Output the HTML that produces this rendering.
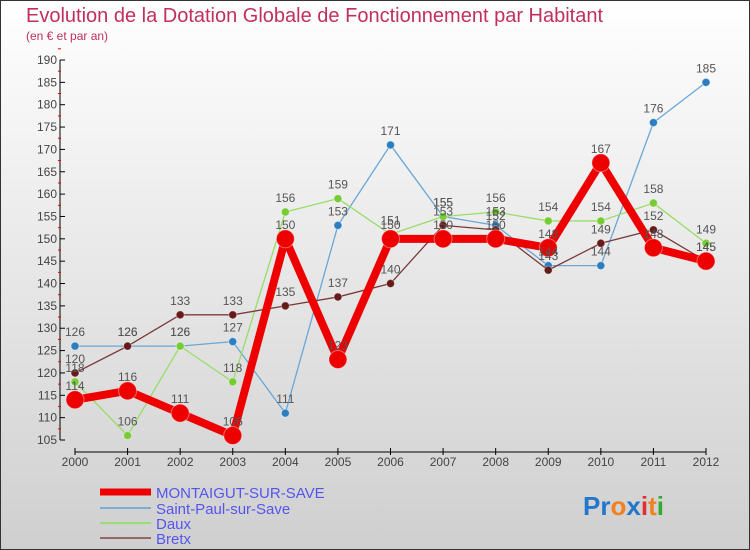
<!DOCTYPE html>
<html><head><meta charset="utf-8"><style>
body{margin:0;width:750px;height:550px;overflow:hidden;font-family:"Liberation Sans",sans-serif}
svg{display:block}
</style></head><body>
<svg id="c" width="750" height="550">
<defs><linearGradient id="bg" x1="0" y1="0" x2="0" y2="1"><stop offset="0" stop-color="#ffffff"/><stop offset="1" stop-color="#cfcfcf"/></linearGradient></defs>
<rect x="0.5" y="0.5" width="749" height="549" fill="url(#bg)" stroke="#333"/>
<text x="26" y="22" font-size="20" fill="#c0305a">Evolution de la Dotation Globale de Fonctionnement par Habitant</text>
<text x="26" y="40" font-size="12" fill="#c0305a">(en € et par an)</text>
<g id="axes"></g><g id="series"></g><g id="labels"></g>
<g>
<line x1="100" y1="492" x2="151" y2="492" stroke="#e00" stroke-width="7"/>
<text x="156" y="498" font-size="15" fill="#5555ee">MONTAIGUT-SUR-SAVE</text>
<line x1="100" y1="508" x2="151" y2="508" stroke="#7aaed6" stroke-width="2"/>
<text x="156" y="514" font-size="15" fill="#5555ee">Saint-Paul-sur-Save</text>
<line x1="100" y1="523" x2="151" y2="523" stroke="#99dd77" stroke-width="2"/>
<text x="156" y="529" font-size="15" fill="#5555ee">Daux</text>
<line x1="100" y1="538" x2="151" y2="538" stroke="#996666" stroke-width="2"/>
<text x="156" y="544" font-size="15" fill="#5555ee">Bretx</text>
</g>
<text x="583" y="515" font-size="26" font-weight="bold"><tspan fill="#2277cc">Pr</tspan><tspan fill="#f08020">o</tspan><tspan fill="#2277cc">x</tspan><tspan fill="#e03030">i</tspan><tspan fill="#f08020">t</tspan><tspan fill="#33aa33">i</tspan></text>
</svg>
<script>
const years=[2000,2001,2002,2003,2004,2005,2006,2007,2008,2009,2010,2011,2012];
const montaigut=[114,116,111,106,150,123,150,150,150,148,167,148,145];
const saintPaul=[126,126,126,127,111,153,171,155,153,144,144,176,185];
const daux=[118,106,126,118,156,159,151,155,156,154,154,158,149];
const bretx=[120,126,133,133,135,137,140,153,152,143,149,152,145];
const yTicks=[105,110,115,120,125,130,135,140,145,150,155,160,165,170,175,180,185,190];
const NS="http://www.w3.org/2000/svg";
const X=i=>75+i*(706-75)/(years.length-1);
const Y=v=>440-(v-105)*(380/85);
function mk(t,a,p){const e=document.createElementNS(NS,t);for(const k in a)e.setAttribute(k,a[k]);p.appendChild(e);return e;}
const ax=document.getElementById('axes');
mk('line',{x1:60,y1:Y(190),x2:60,y2:Y(105),stroke:'#000'},ax);
mk('line',{x1:75,y1:452,x2:706,y2:452,stroke:'#000'},ax);
yTicks.forEach(v=>{
 mk('line',{x1:60,y1:Y(v),x2:65,y2:Y(v),stroke:'#000'},ax);
 mk('line',{x1:58,y1:Y(v+2.5),x2:61,y2:Y(v+2.5),stroke:'#e00'},ax);
 const t=mk('text',{x:57,y:Y(v)+4,'font-size':12,fill:'#444','text-anchor':'end'},ax);t.textContent=v;
 
 
});
years.forEach((y,i)=>{
 mk('line',{x1:X(i),y1:448,x2:X(i),y2:455,stroke:'#000'},ax);
 const t=mk('text',{x:X(i),y:466,'font-size':12,fill:'#444','text-anchor':'middle'},ax);t.textContent=y;
 
 
});
const S=document.getElementById('series'),L=document.getElementById('labels');
function draw(vals,name,color,w,r,dot){
 const g=mk('g',{},S);
 
 
 mk('polyline',{points:vals.map((v,i)=>X(i)+','+Y(v)).join(' '),fill:'none',stroke:color,'stroke-width':w,'stroke-linejoin':'round'},g);
 vals.forEach((v,i)=>{
  const c=mk('circle',{cx:X(i),cy:Y(v),r:r,fill:dot,stroke:'#fff','stroke-opacity':0.4},g);
  
  
  const t=mk('text',{x:X(i),y:Y(v)-10,'font-size':12,fill:'#555','text-anchor':'middle'},L);t.textContent=v;
  
  
 });
}
draw(saintPaul,'series-saint-paul','#6aa6d6',1.3,4,'#2b7fc0');
draw(daux,'series-daux','#99dd66',1.3,4,'#77cc33');
draw(bretx,'series-bretx','#7a3a3a',1.3,4,'#661a1a');
draw(montaigut,'series-montaigut','#ee0000',8,9,'#ee0000');
</script>
</body></html>
